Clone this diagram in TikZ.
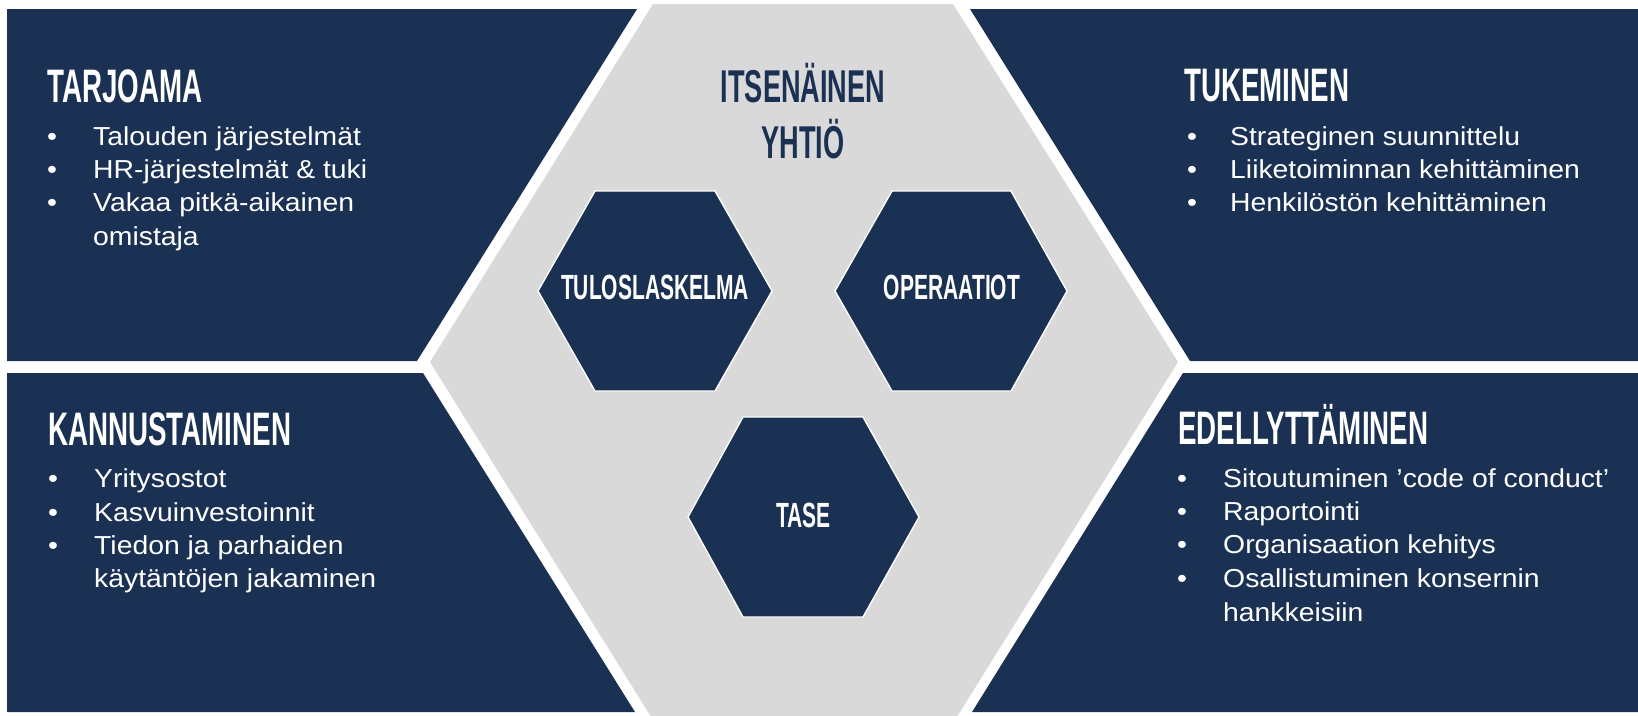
\documentclass[tikz,border=0pt]{standalone}
\usepackage{fontspec}
\setmainfont{Liberation Sans}[FakeStretch=1.09]
\newfontfamily\bebas{Liberation Sans}[FakeStretch=0.59]
\newfontfamily\bebaslbl{Liberation Sans}[FakeStretch=0.6]
\definecolor{navy}{HTML}{1B3153}
\definecolor{core}{HTML}{D9D9D9}
\begin{document}
\begin{tikzpicture}[x=1pt,y=-1pt,
  panel/.style={fill=navy},
  corefill/.style={fill=core},
  cell/.style={fill=navy, draw=white, line width=1.4pt, line join=miter},
  head/.style={anchor=base west, inner sep=0pt, text=white, font=\bebas\bfseries\fontsize{47}{47}\selectfont},
  title/.style={anchor=base, inner sep=0pt, text=navy, font=\bebas\bfseries\fontsize{46}{46}\selectfont},
  lbl/.style={anchor=base, inner sep=0pt, text=white, font=\bebaslbl\bfseries\fontsize{35}{35}\selectfont},
  item/.style={anchor=base west, inner sep=0pt, text=white, font=\fontsize{26}{26}\selectfont},
  bul/.style={anchor=base west, inner sep=0pt, text=white, font=\fontsize{26}{26}\selectfont}
]
\useasboundingbox (0,0) rectangle (1638,715);
\fill[white] (0,0) rectangle (1638,715);
\begin{scope}
\clip (0,0) rectangle (1638,715);
% outer panels
\fill[panel] (7,9) -- (637,9) -- (417,361) -- (7,361) -- cycle;
\fill[panel] (7,373) -- (423,373) -- (635,712) -- (7,712) -- cycle;
\fill[panel] (970,9) -- (1638,9) -- (1638,361) -- (1190,361) -- cycle;
\fill[panel] (1183,373) -- (1638,373) -- (1638,712) -- (972,712) -- cycle;
% central hexagon
\fill[corefill] (430,362) -- (653,4) -- (953,4) -- (1178,362) -- (955,720) -- (653,720) -- cycle;
\end{scope}
% inner hexagons
\draw[cell] (538,291) -- (595,191) -- (715,191) -- (772,291) -- (715,391) -- (595,391) -- cycle;
\draw[cell] (835,291) -- (892,191) -- (1011,191) -- (1067,291) -- (1011,391) -- (892,391) -- cycle;
\draw[cell] (688,517) -- (743,417) -- (863,417) -- (919,517) -- (863,617) -- (743,617) -- cycle;
\node[lbl] (tulos) at (655,299) {TULOSLASKELMA};
\node[lbl] (oper) at (952,299) {OPERAATIOT};
\node[lbl] (tase) at (803.5,527) {TASE};
% title
\node[title] (t1) at (803,102) {ITSENÄINEN};
\node[title] (t2) at (803,158) {YHTIÖ};
% TARJOAMA
\node[head] (h1) at (47,102) {TARJOAMA};
\node[bul] (b11) at (47,145) {•};
\node[item] (i11) at (93,145) {Talouden järjestelmät};
\node[bul] (b12) at (47,178) {•};
\node[item] (i12) at (93,178) {HR-järjestelmät \& tuki};
\node[bul] (b13) at (47,211) {•};
\node[item] (i13) at (93,211) {Vakaa pitkä-aikainen};
\node[item] (i14) at (93,245) {omistaja};
% TUKEMINEN
\node[head] (h2) at (1184,101) {TUKEMINEN};
\node[bul] (b21) at (1187,145) {•};
\node[item] (i21) at (1230,145) {Strateginen suunnittelu};
\node[bul] (b22) at (1187,178) {•};
\node[item] (i22) at (1230,178) {Liiketoiminnan kehittäminen};
\node[bul] (b23) at (1187,211) {•};
\node[item] (i23) at (1230,211) {Henkilöstön kehittäminen};
% KANNUSTAMINEN
\node[head] (h3) at (48,445) {KANNUSTAMINEN};
\node[bul] (b31) at (48,487) {•};
\node[item] (i31) at (94,487) {Yritysostot};
\node[bul] (b32) at (48,521) {•};
\node[item] (i32) at (94,521) {Kasvuinvestoinnit};
\node[bul] (b33) at (48,554) {•};
\node[item] (i33) at (94,554) {Tiedon ja parhaiden};
\node[item] (i34) at (94,587) {käytäntöjen jakaminen};
% EDELLYTTÄMINEN
\node[head] (h4) at (1178,444) {EDELLYTTÄMINEN};
\node[bul] (b41) at (1177,487) {•};
\node[item] (i41) at (1223,487) {Sitoutuminen ’code of conduct’};
\node[bul] (b42) at (1177,520) {•};
\node[item] (i42) at (1223,520) {Raportointi};
\node[bul] (b43) at (1177,553) {•};
\node[item] (i43) at (1223,553) {Organisaation kehitys};
\node[bul] (b44) at (1177,587) {•};
\node[item] (i44) at (1223,587) {Osallistuminen konsernin};
\node[item] (i45) at (1223,621) {hankkeisiin};
\end{tikzpicture}
\end{document}
